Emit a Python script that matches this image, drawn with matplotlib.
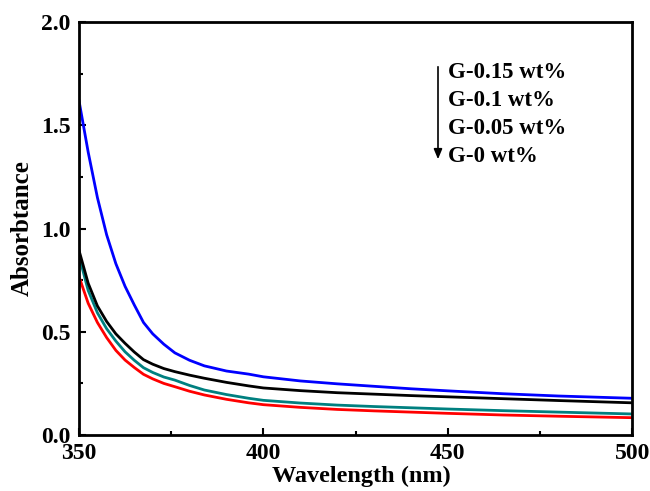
import matplotlib
matplotlib.use('Agg')
import matplotlib.pyplot as plt
from matplotlib.patches import FancyArrowPatch
from matplotlib.ticker import MultipleLocator

plt.rcParams['font.family'] = ['Liberation Serif', 'DejaVu Serif']
plt.rcParams['font.weight'] = 'bold'

# wavelength (nm) and absorbance
wavelength = [350, 352.5, 355, 357.5, 360, 362.5, 365, 367.5, 370, 373, 376, 380,
              384, 390, 396, 400, 410, 420, 430, 440, 450, 465, 480, 500]
g015 = [1.62, 1.37, 1.15, 0.97, 0.83, 0.72, 0.63, 0.545, 0.49, 0.44, 0.398, 0.362,
        0.335, 0.31, 0.295, 0.282, 0.262, 0.248, 0.236, 0.224, 0.214, 0.2, 0.189, 0.178]
g01 = [0.895, 0.735, 0.625, 0.55, 0.49, 0.444, 0.402, 0.365, 0.343, 0.322, 0.307, 0.29,
       0.275, 0.255, 0.238, 0.228, 0.215, 0.205, 0.198, 0.191, 0.185, 0.176, 0.167, 0.156]
g005 = [0.868, 0.70, 0.592, 0.515, 0.455, 0.403, 0.362, 0.326, 0.303, 0.281, 0.266, 0.24,
        0.218, 0.196, 0.178, 0.168, 0.155, 0.145, 0.138, 0.132, 0.126, 0.118, 0.111, 0.102]
g0 = [0.768, 0.638, 0.545, 0.472, 0.41, 0.363, 0.327, 0.294, 0.272, 0.25, 0.234, 0.212,
      0.194, 0.173, 0.156, 0.147, 0.134, 0.124, 0.117, 0.111, 0.105, 0.097, 0.091, 0.084]

labels = ['G-0.15 wt%', 'G-0.1 wt%', 'G-0.05 wt%', 'G-0 wt%']


def main():
    fig = plt.figure(figsize=(6.5, 4.91), dpi=100)
    ax = fig.add_axes([0.1215, 0.114, 0.851, 0.841])

    ax.plot(wavelength, g0, color='#ff0000', lw=2)
    ax.plot(wavelength, g005, color='#008080', lw=2)
    ax.plot(wavelength, g01, color='black', lw=2)
    ax.plot(wavelength, g015, color='#0000ff', lw=2)

    ax.set_xlim(350, 500)
    ax.set_ylim(0, 2.0)
    ax.xaxis.set_major_locator(MultipleLocator(50))
    ax.xaxis.set_minor_locator(MultipleLocator(25))
    ax.yaxis.set_major_locator(MultipleLocator(0.5))
    ax.yaxis.set_minor_locator(MultipleLocator(0.25))
    ax.tick_params(which='both', direction='in', width=1.5, labelsize=17)
    ax.tick_params(which='major', length=5)
    ax.tick_params(which='minor', length=3)
    ax.tick_params(axis='x', pad=6)
    ax.tick_params(axis='y', pad=6)
    for s in ax.spines.values():
        s.set_linewidth(2)

    ax.set_xlabel('Wavelength (nm)', fontsize=17.5, fontweight='bold', labelpad=3)
    ax.xaxis.set_label_coords(0.51, -0.075)
    ax.set_ylabel('Absorbtance', fontsize=18, fontweight='bold', labelpad=5)

    # legend text with arrow
    for i, lab in enumerate(labels):
        fig.text(448 / 650, 1 - (72 + i * 28.3) / 491, lab, fontsize=16.5,
                 fontweight='bold', ha='left', va='center')
    fig.add_artist(FancyArrowPatch(
        (438 / 650, 1 - 64 / 491), (438 / 650, 1 - 162 / 491),
        transform=fig.transFigure, arrowstyle='-|>,head_length=6,head_width=2.5',
        color='black', lw=1.2, mutation_scale=1))

    fig.savefig('out.png', dpi=100)


if __name__ == '__main__':
    main()
